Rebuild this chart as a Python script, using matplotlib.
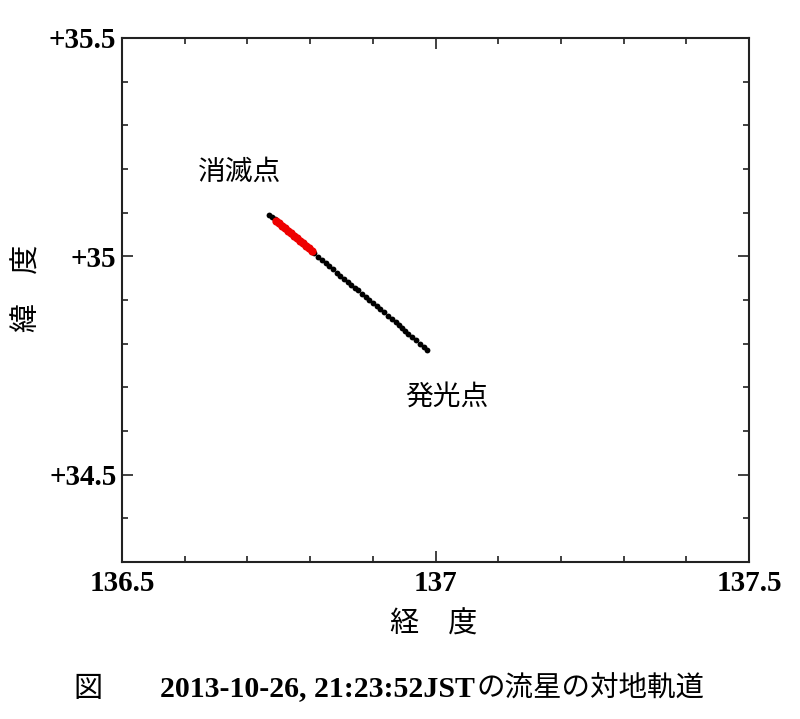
import numpy as np
import matplotlib
matplotlib.use("Agg")
import matplotlib.pyplot as plt
from matplotlib.ticker import MultipleLocator, FixedLocator

# ground track of the meteor (longitude, latitude)
lon_black = [136.734, 136.739, 136.744, 136.806, 136.813, 136.819, 136.825, 136.830,
             136.837, 136.843, 136.848, 136.854, 136.860, 136.865, 136.872, 136.876,
             136.883, 136.889, 136.894, 136.900, 136.907, 136.911, 136.918, 136.924,
             136.931, 136.937, 136.942, 136.947, 136.951, 136.956, 136.963, 136.969,
             136.975, 136.982, 136.986]
lat_black = [35.095, 35.090, 35.086, 35.008, 34.999, 34.992, 34.985, 34.978,
             34.971, 34.962, 34.955, 34.949, 34.942, 34.935, 34.928, 34.923,
             34.914, 34.907, 34.900, 34.894, 34.887, 34.880, 34.873, 34.864,
             34.857, 34.850, 34.843, 34.836, 34.830, 34.823, 34.816, 34.809,
             34.800, 34.793, 34.786]

lon_red = [136.746, 136.750, 136.755, 136.760, 136.765, 136.770, 136.774,
           136.779, 136.784, 136.789, 136.793, 136.798, 136.803]
lat_red = [35.081, 35.076, 35.070, 35.064, 35.058, 35.053, 35.047,
           35.041, 35.035, 35.030, 35.024, 35.018, 35.013]

x_major = [136.5, 137.0, 137.5]
x_labels = ['136.5', '137', '137.5']
y_major = [34.5, 35.0, 35.5]
y_labels = ['+34.5', '+35', '+35.5']

end_label = ('消滅点', 136.688, 35.193)
start_label = ('発光点', 137.018, 34.678)

JP = ['Noto Sans CJK JP', 'DejaVu Sans']
NUM = 'Liberation Serif'

fig = plt.figure(figsize=(8, 7.19), dpi=100)
ax = fig.add_axes([0.1525, 0.2184, 0.78375, 0.7288])

ax.plot(lon_black, lat_black, 'o', color='black', ms=4.2, mew=0)
ax.plot(lon_red, lat_red, 'o', color='#ee0000', ms=6, mew=0)

ax.text(end_label[1], end_label[2], end_label[0], family=JP, fontsize=20,
        ha='center', va='center')
ax.text(start_label[1], start_label[2], start_label[0], family=JP, fontsize=20,
        ha='center', va='center')

ax.set_xlim(136.5, 137.5)
ax.set_ylim(34.3, 35.5)
ax.xaxis.set_major_locator(FixedLocator(x_major))
ax.yaxis.set_major_locator(FixedLocator(y_major))
ax.xaxis.set_minor_locator(MultipleLocator(0.1))
ax.yaxis.set_minor_locator(MultipleLocator(0.1))
ax.set_xticklabels(x_labels)
ax.set_yticklabels(y_labels)

ax.tick_params(which='both', direction='in', top=True, right=True, width=1.3,
               color='#333333')
ax.tick_params(which='major', length=8)
ax.tick_params(which='minor', length=4)
ax.tick_params(axis='x', which='major', pad=6)
ax.tick_params(axis='y', which='major', pad=4)
for lab in ax.get_xticklabels() + ax.get_yticklabels():
    lab.set_family(NUM)
    lab.set_fontweight('bold')
    lab.set_fontsize(21)

for sp in ax.spines.values():
    sp.set_linewidth(1.5)
    sp.set_color('#222222')

# axis titles
fig.text(434 / 800, 1 - 625 / 719, '経　度', family=JP, fontsize=21,
         ha='center', va='center')
fig.text(28 / 800, 1 - 288 / 719, '緯　度', family=JP, fontsize=21,
         ha='center', va='center', rotation=90)

# caption
fig.text(88 / 800, 1 - 689 / 719, '図', family=JP, fontsize=21,
         ha='center', va='center')
t1 = fig.text(160 / 800, 1 - 689 / 719, '2013-10-26, 21:23:52JST', family=NUM,
              fontweight='bold', fontsize=21.5, ha='left', va='center')
fig.canvas.draw()
bb = t1.get_window_extent()
fig.text(bb.x1 / 800 + 0.002, 1 - 689 / 719, 'の流星の対地軌道', family=JP,
         fontsize=20.5, ha='left', va='center')

fig.savefig('out.png', dpi=100)
